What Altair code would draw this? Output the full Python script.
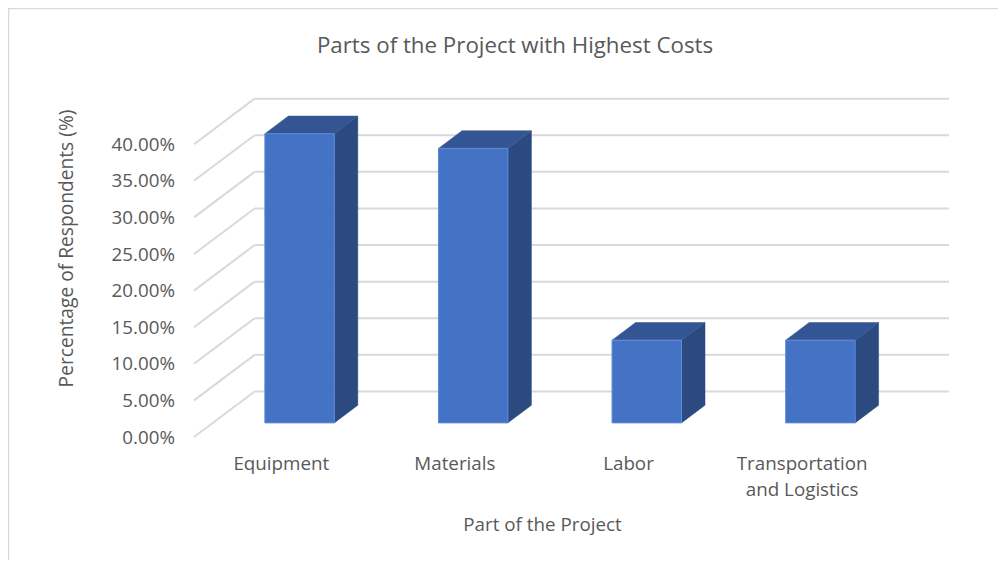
import json
import altair as alt
import pandas as pd

# ---- chart values
categories = ["Equipment", "Materials", "Labor", "Transportation and Logistics"]
category_lines = [["Equipment"], ["Materials"], ["Labor"], ["Transportation", "and Logistics"]]
values = [39.5, 37.5, 11.3, 11.3]
ticks = [0, 5, 10, 15, 20, 25, 30, 35, 40]

# ---- oblique projection settings (in data units)
DX, DY = 0.349, 6.22      # shift of the back wall relative to the front plane
D0, D1 = 0.31, 0.698      # depth span of the bars
BW = 0.40                 # bar width as slot fraction
SLOTS = 4
PX, PY = 173.6, 7.32      # pixels per slot, per percent
W, H = 990, 552
X0, Y0 = 186.0, 429.0     # pixel location of the front-plane origin

x_dom = [-X0 / PX, (W - X0) / PX]
y_dom = [-(H - Y0) / PY, Y0 / PY]
xs = alt.Scale(domain=x_dom, nice=False, zero=False)
ys = alt.Scale(domain=y_dom, nice=False, zero=False)

FRONT, SIDE, TOP, EDGE = "#4472C4", "#2A4A80", "#335593", "#5E8AD6"
GRID, TXT, FONT = "#D9D9D9", "#595959", "Open Sans"
FS = 18.8

# ---- derived tables
back = pd.DataFrame({"y": [t + DY for t in ticks], "x": DX, "x2": SLOTS + DX})
wall = pd.DataFrame(
    [{"t": t, "x": d * DX, "y": t + d * DY} for t in ticks for d in (0, 1)]
)
front = pd.DataFrame([
    {"x": i + .5 - BW / 2 + D0 * DX, "x2": i + .5 + BW / 2 + D0 * DX,
     "y": D0 * DY, "y2": v + D0 * DY}
    for i, v in enumerate(values)
])
side = pd.DataFrame([
    {"b": i, "x": i + .5 + BW / 2 + d * DX, "y": d * DY, "y2": v + d * DY}
    for i, v in enumerate(values) for d in (D0, D1)
])
top = pd.DataFrame([
    {"b": i, "y": v + d * DY, "x": i + .5 - BW / 2 + d * DX, "x2": i + .5 + BW / 2 + d * DX}
    for i, v in enumerate(values) for d in (D0, D1)
])

X = lambda: alt.X("x:Q", scale=xs, title="Part of the Project")
Y = lambda: alt.Y("y:Q", scale=ys, title="Percentage of Respondents (%)")

axis_layer = alt.Chart(pd.DataFrame({"x": [0.5], "y": [0]})).mark_point(opacity=0).encode(
    x=alt.X("x:Q", scale=xs, title="Part of the Project", axis=alt.Axis(
        values=[i + .5 for i in range(SLOTS)],
        labelExpr=json.dumps(category_lines).replace('"', "'") + "[floor(datum.value)]",
        domain=False, ticks=False, grid=False, offset=-(H - Y0),
        labelPadding=17, labelFontSize=FS, labelColor=TXT, labelFont=FONT,
        labelLineHeight=26, labelOverlap=False, labelBound=False, labelFlush=False,
        titleFontSize=FS, titleColor=TXT, titleFont=FONT,
        titleFontWeight="normal", titleX=534, titleY=87, titleBaseline="middle",
    )),
    y=alt.Y("y:Q", scale=ys, title="Percentage of Respondents (%)", axis=alt.Axis(
        values=ticks, labelExpr="format(datum.value, '.2f') + '%'",
        domain=False, ticks=False, grid=False, offset=-X0,
        labelPadding=19.5, labelFontSize=FS, labelColor=TXT, labelFont=FONT,
        labelOverlap=False, labelBound=False, labelFlush=False,
        titleFontSize=19.2, titleColor=TXT,
        titleFont=FONT, titleFontWeight="normal", titleX=-128, titleY=240,
        titleBaseline="middle",
    )),
)

frame_l = alt.Chart(pd.DataFrame({"a": [0]})).mark_rule(color=GRID, strokeWidth=1.5).encode(
    x=alt.value(0.5), y=alt.value(0), y2=alt.value(H))
frame_t = alt.Chart(pd.DataFrame({"a": [0]})).mark_rule(color=GRID, strokeWidth=1.5).encode(
    y=alt.value(0.5), x=alt.value(0), x2=alt.value(W))

grid_back = alt.Chart(back).mark_rule(color=GRID, strokeWidth=2).encode(X(), x2="x2:Q", y=Y())
grid_wall = alt.Chart(wall).mark_line(color=GRID, strokeWidth=2).encode(X(), Y(), detail="t:N")
sides = alt.Chart(side).mark_area(color=SIDE, interpolate="linear", stroke=SIDE, strokeWidth=0.5).encode(
    X(), Y(), y2="y2:Q", detail="b:N")
tops = alt.Chart(top).mark_area(color=TOP, orient="horizontal", interpolate="linear", stroke=TOP, strokeWidth=0.5).encode(
    X(), x2="x2:Q", y=Y(), detail="b:N")
fronts = alt.Chart(front).mark_rect(color=FRONT, stroke=EDGE, strokeWidth=1).encode(
    X(), x2="x2:Q", y=Y(), y2="y2:Q")

chart = alt.layer(
    axis_layer, frame_l, frame_t, grid_back, grid_wall, sides, tops, fronts
).properties(
    width=W, height=H, autosize="none", padding=0,
    title=alt.TitleParams(
        "Parts of the Project with Highest Costs", font=FONT, fontSize=22.3,
        fontWeight="normal", color=TXT, anchor="middle", dx=12, offset=-73,
        baseline="bottom",
    ),
).configure_view(strokeWidth=0, stroke="transparent").configure(background="white")

chart.save("out.html", embed_options={"renderer": "svg", "actions": False})
